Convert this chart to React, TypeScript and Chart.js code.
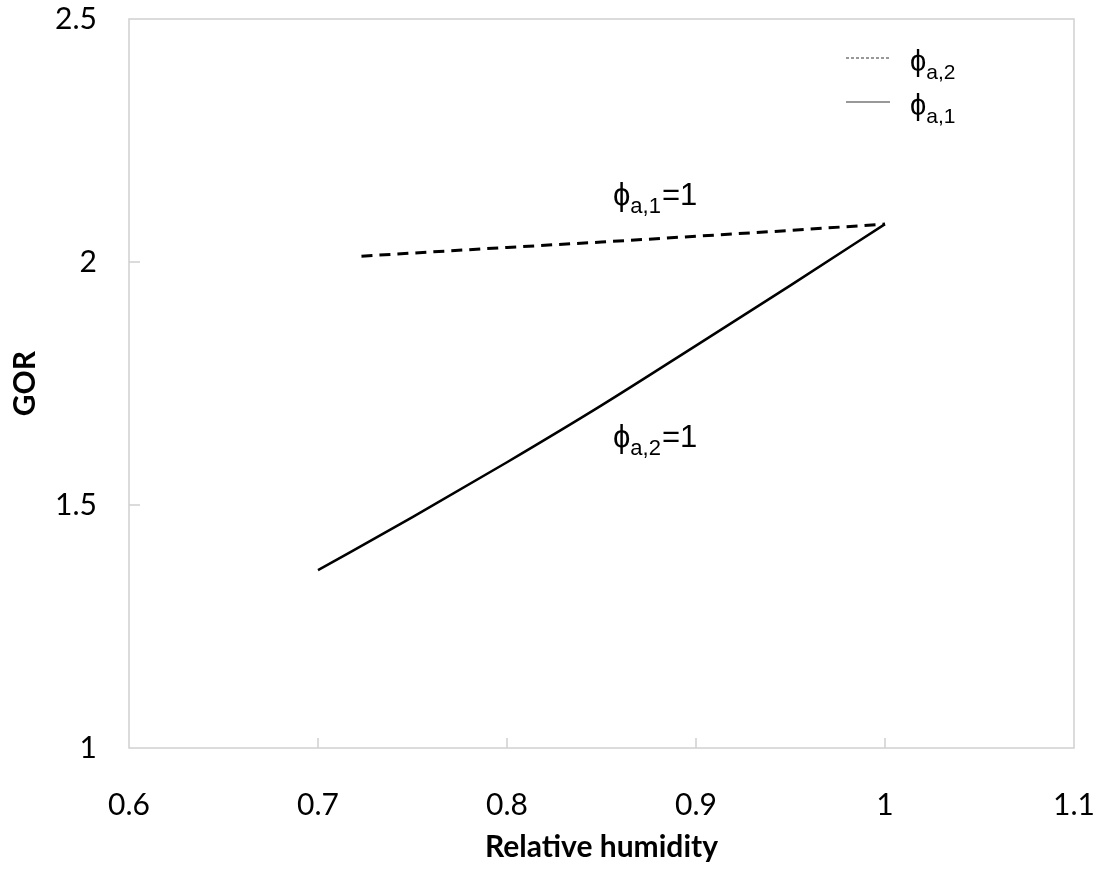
import React, { useEffect, useRef } from "react";
import { Chart, registerables } from "chart.js";

Chart.register(...registerables);

const dashedX = [0.723, 0.8, 0.85, 0.9, 0.95, 1.0];
const dashedY = [2.012, 2.03, 2.041, 2.053, 2.065, 2.078];
const solidX = [0.7, 0.75, 0.8, 0.85, 0.9, 0.95, 1.0];
const solidY = [1.366, 1.475, 1.588, 1.705, 1.828, 1.952, 2.078];
const xTicks = [0.6, 0.7, 0.8, 0.9, 1.0, 1.1];
const yTicks = [1, 1.5, 2, 2.5];

const LEFT = 129, RIGHT = 1074, TOP = 19, BOTTOM = 748, W = 1101, H = 877;
const FONT = "Lato, 'Open Sans', sans-serif";

function drawPhi(ctx: CanvasRenderingContext2D, x: number, y: number, sub: string, suffix: string, size: number) {
  ctx.fillStyle = "#000";
  ctx.textAlign = "left";
  ctx.textBaseline = "alphabetic";
  ctx.font = `${size}px "Liberation Sans", Arial, sans-serif`;
  ctx.fillText("\u03d5", x, y);
  let cx = x + ctx.measureText("\u03d5").width;
  ctx.font = `${Math.round(size * 0.72)}px "Liberation Sans", Arial, sans-serif`;
  ctx.fillText(sub, cx, y + size * 0.26);
  cx += ctx.measureText(sub).width + 1;
  if (suffix) {
    ctx.font = `${size}px "Liberation Sans", Arial, sans-serif`;
    ctx.fillText(suffix, cx, y);
  }
}

const framePlugin = {
  id: "frame",
  afterDraw(chart: any) {
    const { ctx, chartArea, scales } = chart;
    ctx.save();
    ctx.strokeStyle = "#d0d0d0";
    ctx.lineWidth = 1.5;
    ctx.strokeRect(chartArea.left, chartArea.top, chartArea.right - chartArea.left, chartArea.bottom - chartArea.top);
    ctx.beginPath();
    xTicks.slice(1, -1).forEach((v) => {
      const px = scales.x.getPixelForValue(v);
      ctx.moveTo(px, chartArea.bottom);
      ctx.lineTo(px, chartArea.bottom - 10);
    });
    yTicks.slice(1, -1).forEach((v) => {
      const py = scales.y.getPixelForValue(v);
      ctx.moveTo(chartArea.left, py);
      ctx.lineTo(chartArea.left + 11, py);
    });
    ctx.stroke();

    // legend
    ctx.strokeStyle = "#333";
    ctx.lineWidth = 1;
    ctx.setLineDash([3, 2]);
    ctx.beginPath();
    ctx.moveTo(846, 58);
    ctx.lineTo(890, 58);
    ctx.stroke();
    ctx.setLineDash([]);
    ctx.beginPath();
    ctx.moveTo(846, 102);
    ctx.lineTo(890, 102);
    ctx.stroke();
    drawPhi(ctx, 910, 71, "a,2", "", 29);
    drawPhi(ctx, 910, 115, "a,1", "", 29);

    // annotations
    drawPhi(ctx, 613, 205, "a,1", "=1", 31);
    drawPhi(ctx, 613, 447, "a,2", "=1", 31);
    ctx.restore();
  },
};

export default function App() {
  const ref = useRef<HTMLCanvasElement>(null);
  useEffect(() => {
    document.body.style.margin = "0";
    const chart = new Chart(ref.current!, {
      type: "scatter",
      data: {
        datasets: [
          {
            label: "\u03d5a,2",
            data: dashedX.map((x, i) => ({ x, y: dashedY[i] })),
            showLine: true,
            borderColor: "#000",
            borderWidth: 3,
            borderDash: [11, 7],
            pointRadius: 0,
            tension: 0,
          },
          {
            label: "\u03d5a,1",
            data: solidX.map((x, i) => ({ x, y: solidY[i] })),
            showLine: true,
            borderColor: "#000",
            borderWidth: 2.5,
            pointRadius: 0,
            cubicInterpolationMode: "monotone",
          },
        ],
      },
      options: {
        animation: false,
        responsive: false,
        layout: { padding: { top: TOP, right: W - RIGHT, left: 0, bottom: 0 } },
        plugins: { legend: { display: false }, tooltip: { enabled: false } },
        scales: {
          x: {
            type: "linear",
            min: 0.6,
            max: 1.1,
            afterBuildTicks: (s: any) => {
              s.ticks = xTicks.map((v) => ({ value: v }));
            },
            afterFit: (s: any) => {
              s.height = H - BOTTOM;
              s.paddingLeft = 0;
              s.paddingRight = 0;
              s.paddingTop = 0;
              s.paddingBottom = 0;
            },
            grid: { display: false },
            border: { display: false },
            ticks: {
              color: "#000",
              padding: 31,
              font: { family: FONT, size: 30 },
              callback: (v: any) => String(Math.round(v * 10) / 10),
            },
            title: {
              display: true,
              text: "Relative humidity",
              color: "#000",
              font: { family: FONT, size: 30, weight: "bold" },
              padding: { top: 0, bottom: 12 },
            },
          },
          y: {
            type: "linear",
            min: 1,
            max: 2.5,
            afterBuildTicks: (s: any) => {
              s.ticks = yTicks.map((v) => ({ value: v }));
            },
            afterFit: (s: any) => {
              s.width = LEFT;
              s.paddingLeft = 0;
              s.paddingRight = 0;
              s.paddingTop = 0;
              s.paddingBottom = 0;
            },
            grid: { display: false },
            border: { display: false },
            ticks: {
              color: "#000",
              padding: 24,
              font: { family: FONT, size: 30 },
              callback: (v: any) => String(v),
            },
            title: {
              display: true,
              text: "GOR",
              color: "#000",
              font: { family: FONT, size: 30, weight: "bold" },
              padding: { top: 7, bottom: 0 },
            },
          },
        },
      },
      plugins: [framePlugin],
    });
    return () => chart.destroy();
  }, []);
  return (
    <div style={{ width: W, height: H }}>
      <canvas ref={ref} width={W} height={H} style={{ display: "block" }} />
    </div>
  );
}
